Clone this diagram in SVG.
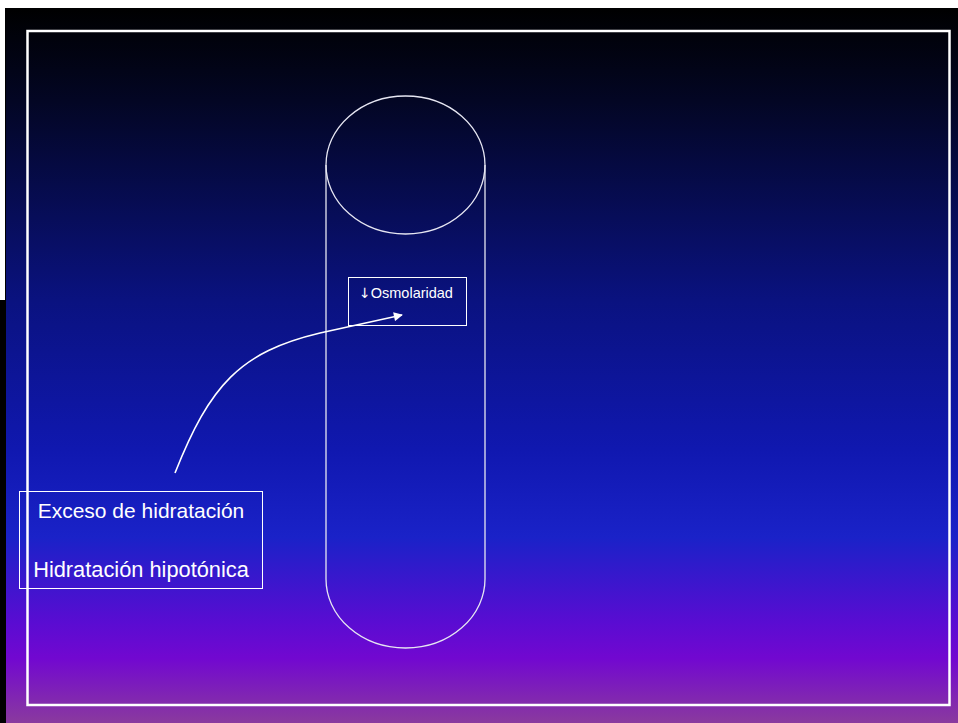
<svg xmlns="http://www.w3.org/2000/svg" width="958" height="723" viewBox="0 0 958 723">
  <defs>
    <linearGradient id="bg" x1="0" y1="0" x2="0" y2="1">
      <stop offset="0" stop-color="#000000"/>
      <stop offset="0.13" stop-color="#030624"/>
      <stop offset="0.41" stop-color="#0a1280"/>
      <stop offset="0.62" stop-color="#1018b0"/>
      <stop offset="0.74" stop-color="#1a22c8"/>
      <stop offset="0.86" stop-color="#5a0cd2"/>
      <stop offset="0.91" stop-color="#7208d0"/>
      <stop offset="1" stop-color="#8a3a9e"/>
    </linearGradient>
    <marker id="head" viewBox="0 0 10 10" refX="9" refY="5" markerWidth="10" markerHeight="9" markerUnits="userSpaceOnUse" orient="auto">
      <path d="M0,0 L10,5 L0,10 z" fill="#ffffff"/>
    </marker>
    <style>
      .frame { fill: none; stroke: #ffffff; stroke-width: 2.5; }
      .tube { fill: none; stroke: #e6e6f2; stroke-width: 1.3; }
      .box { fill: none; stroke: #ffffff; stroke-width: 1; }
      .label { font-family: "Liberation Sans", Arial, sans-serif; fill: #ffffff; }
      .sym { font-family: "DejaVu Sans", sans-serif; }
      .link { fill: none; stroke: #ffffff; stroke-width: 1.6; }
    </style>
  </defs>

  <!-- page and slide background -->
  <rect x="0" y="0" width="958" height="723" fill="#000000"/>
  <rect x="6" y="8" width="952" height="715" fill="url(#bg)"/>
  <rect x="0" y="0" width="958" height="8" fill="#ffffff"/>
  <rect x="0" y="0" width="5" height="300" fill="#ffffff"/>

  <!-- slide frame -->
  <rect class="frame" x="27.5" y="31" width="922" height="674"/>

  <!-- cylinder -->
  <g id="cylinder">
    <ellipse class="tube" cx="405.5" cy="165" rx="79.5" ry="69"/>
    <path class="tube" d="M326,165 L326,579 A79.5,69 0 0 0 485,579 L485,165"/>
  </g>

  <g id="osmolaridad">
    <rect class="box" x="348.5" y="277.5" width="118" height="48"/>
    <text class="label" x="359" y="298" font-size="14.5"><tspan class="sym" font-size="14">↓</tspan>Osmolaridad</text>
  </g>

  <g id="hidratacion">
    <rect class="box" x="19.5" y="491.5" width="243" height="97"/>
    <text class="label" x="141" y="518" font-size="21" text-anchor="middle">Exceso de hidratación</text>
    <text class="label" x="141" y="577" font-size="21.8" text-anchor="middle">Hidratación hipotónica</text>
  </g>

  <g id="connectors">
    <path class="link" d="M175,473 C210,385 240,352 320,333 L402,315" marker-end="url(#head)"/>
  </g>
</svg>
